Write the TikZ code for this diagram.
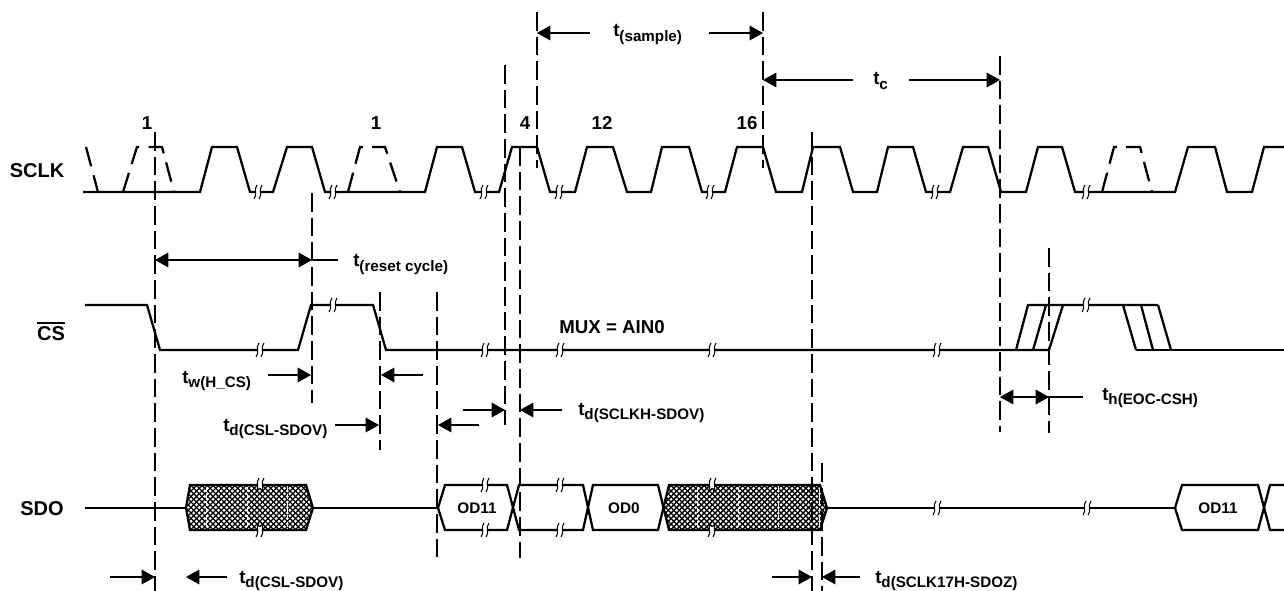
\documentclass[tikz,border=0pt]{standalone}
\usepackage{fontspec}
\setmainfont{Liberation Sans}
\usetikzlibrary{arrows.meta}
\newcommand\tlab[1]{t\raisebox{-3.5pt}{\fontsize{11.4}{13}\selectfont #1}}
\begin{document}
\begin{tikzpicture}[x=0.75pt,y=-0.75pt,
  wave/.style={line width=1.7pt},
  dwave/.style={wave, dash pattern=on 15pt off 7pt},
  guide/.style={line width=0.9pt, dash pattern=on 14pt off 4.5pt},
  dim/.style={line width=0.8pt},
  tip/.style={dim,-{Triangle[length=10pt,width=11pt]}},
  tips/.style={dim,{Triangle[length=10pt,width=11pt]}-{Triangle[length=10pt,width=11pt]}},
  sig/.style={font=\bfseries\fontsize{15}{17}\selectfont, inner sep=0pt},
  lbl/.style={font=\bfseries\fontsize{14}{16}\selectfont, inner sep=0pt},
  odl/.style={font=\bfseries\fontsize{11.5}{13}\selectfont, inner sep=0pt},
  hl/.style={line width=1.05pt},
  inner/.style={white, line width=0.7pt, dash pattern=on 4pt off 1.2pt},
  brk/.pic={
    \fill[white] (-2.5,-3) rectangle (2.5,3);
    \draw[line width=0.8pt] (-1,-7) .. controls (-5,-2) and (0,2) .. (-4,7);
    \draw[line width=0.8pt] (4,-7) .. controls (0,-2) and (5,2) .. (1,7);
  }]
\useasboundingbox (0,0) rectangle (1284,591);

% ---------- signal names ----------
\node[sig, anchor=base] (sclk) at (37,178) {SCLK};
\node[sig, anchor=base] (cs) at (51,340) {CS};
\draw[line width=1pt] ([yshift=2.2pt]cs.north west) -- ([yshift=2.2pt]cs.north east);
\node[sig, anchor=base] (sdo) at (42,515) {SDO};

% ---------- clock numbers ----------
\node[lbl] (n1a) at (147,123) {1};
\node[lbl] (n1b) at (376,123) {1};
\node[lbl] (n4) at (525,123) {4};
\node[lbl] (n12) at (602,123) {12};
\node[lbl] (n16) at (747,123) {16};

% ---------- dashed guide lines ----------
\draw[guide] (155,132) -- (155,591);
\draw[guide] (312,193) -- (312,403);
\draw[guide] (380,292) -- (380,450);
\draw[guide] (437,292) -- (437,558);
\draw[guide] (505,65) -- (505,425);
\draw[guide] (520,147) -- (520,558);
\draw[guide] (537,12) -- (537,168);
\draw[guide] (763,12) -- (763,168);
\draw[guide] (812,132) -- (812,591);
\draw[guide] (822,463) -- (822,591);
\draw[guide] (1000,56) -- (1000,432);
\draw[guide] (1049,248) -- (1049,433);

% ---------- SCLK ----------
\draw[wave] (83,192)--(200,192)--(212,147)--(237,147)--(250,192)--(273,192)--(287,147)--(312,147)--(325,192)--(425,192)--(437,147)--(462,147)--(475,192)--(499,192)--(512,147)--(537,147)--(550,192)--(575,192)--(587,147)--(613,147)--(627,192)--(651,192)--(662,147)--(689,147)--(702,192)--(725,192)--(737,147)--(763,147)--(776,192)--(802,192)--(813,147)--(840,147)--(853,192)--(877,192)--(888,147)--(913,147)--(926,192)--(950,192)--(963,147)--(988,147)--(1001,192)--(1026,192)--(1038,147)--(1062,147)--(1075,192)--(1175,192)--(1188,147)--(1215,147)--(1227,192)--(1252,192)--(1264,147)--(1295,147);
\draw[dwave] (86,147)--(98,192);
\draw[dwave] (123,192)--(137,147)--(162,147)--(174,192);
\draw[dwave] (348,192)--(360,147)--(385,147)--(400,192);
\draw[dwave] (1102,192)--(1114,147)--(1140,147)--(1152,192);
\foreach \x in {258,333,484,559,710,935,1086} \pic at (\x,192) {brk};

% ---------- CS ----------
\draw[wave] (85,305)--(147,305)--(160,350)--(298,350)--(311,305)--(373,305)--(386,350)--(1049,350);
\draw[wave] (1016,350)--(1028,305)--(1158,305);
\draw[wave] (1033,350)--(1046,305);
\draw[wave] (1049,350)--(1063,305);
\draw[wave] (1123,305)--(1136,350);
\draw[wave] (1141,305)--(1153,350);
\draw[wave] (1158,305)--(1171,350);
\draw[wave] (1136,350)--(1295,350);
\foreach \x/\y in {260/350,333/305,485/350,560/350,712/350,937/350,1086/305} \pic at (\x,\y) {brk};
\node[lbl, anchor=base] (mux) at (612,334) {MUX = AIN0};

% ---------- SDO ----------
\draw[wave] (85,508) -- (186,508);
\begin{scope}
  \clip (186,508)--(190,485)--(306,485)--(313,508)--(306,530)--(190,530)--cycle;
  \foreach \k in {-10,...,26} {
    \draw[hl] (180+\k*5.5,480) -- (235+\k*5.5,535);
    \draw[hl] (180+\k*5.5,535) -- (235+\k*5.5,480);
  }
\end{scope}
\foreach \x in {206,247,287} \draw[inner] (\x,487) -- (\x,528);
\draw[wave] (186,508)--(190,485)--(306,485)--(313,508)--(306,530)--(190,530)--cycle;
\draw[wave] (313,508) -- (438,508);

\begin{scope}
  \clip (663,508)--(669,485)--(820,485)--(827,508)--(820,530)--(669,530)--cycle;
  \foreach \k in {-11,...,33} {
    \draw[hl] (660+\k*5.5,480) -- (715+\k*5.5,535);
    \draw[hl] (660+\k*5.5,535) -- (715+\k*5.5,480);
  }
\end{scope}
\foreach \x in {697,738,778,819} \draw[inner] (\x,487) -- (\x,528);
\draw[wave] (438,508)--(445,485)--(507,485)--(519,530)--(583,530)--(593,485)--(658,485)--(669,530)--(820,530)--(827,508);
\draw[wave] (438,508)--(445,530)--(507,530)--(519,485)--(583,485)--(593,530)--(658,530)--(669,485)--(820,485)--(827,508);
\draw[wave] (827,508) -- (1175,508);
\draw[wave] (1175,508)--(1182,485)--(1258,485)--(1270,530)--(1295,530);
\draw[wave] (1175,508)--(1182,530)--(1258,530)--(1270,485)--(1295,485);
\foreach \x/\y in {260/485,260/530,485/485,485/530,560/485,560/530,712/485,712/530,937/508,1087/508} \pic at (\x,\y) {brk};
\node[odl] (od11a) at (477,508) {OD11};
\node[odl] (od0) at (624,508) {OD0};
\node[odl] (od11b) at (1218,508) {OD11};

% ---------- timing arrows ----------
\draw[tip] (590,33) -- (537,33);
\draw[tip] (709,33) -- (763,33);
\node[lbl, anchor=base west] (tsample) at (613,37) {\tlab{(sample)}};

\draw[tip] (853,80) -- (763,80);
\draw[tip] (909,80) -- (1000,80);
\node[lbl, anchor=base west] (tc) at (873,85) {\tlab{c}};

\draw[tips] (155,260) -- (312,260);
\draw[dim] (312,260) -- (338,260);
\node[lbl, anchor=base west] (treset) at (353,267) {\tlab{(reset cycle)}};

\draw[tip] (268,375) -- (311,375);
\draw[tip] (423,375) -- (381,375);
\node[lbl, anchor=base west] (twh) at (182,383) {\tlab{w(H\_CS)}};

\draw[tip] (335,425) -- (379,425);
\node[lbl, anchor=base west] (tdcsl1) at (223,431) {\tlab{d(CSL-SDOV)}};
\draw[tip] (479,425) -- (438,425);

\draw[tip] (463,410) -- (505,410);
\draw[tip] (562,410) -- (520,410);
\node[lbl, anchor=base west] (tdsclkh) at (578,415) {\tlab{d(SCLKH-SDOV)}};

\draw[tips] (1000,397) -- (1049,397);
\draw[dim] (1049,397) -- (1083,397);
\node[lbl, anchor=base west] (theoc) at (1102,400) {\tlab{h(EOC-CSH)}};

\draw[tip] (110,577) -- (155,577);
\draw[tip] (227,577) -- (186,577);
\node[lbl, anchor=base west] (tdcsl2) at (239,583) {\tlab{d(CSL-SDOV)}};

\draw[tip] (772,577) -- (812,577);
\draw[tip] (860,577) -- (822,577);
\node[lbl, anchor=base west] (tdsclk17) at (875,583) {\tlab{d(SCLK17H-SDOZ)}};
\end{tikzpicture}
\end{document}
